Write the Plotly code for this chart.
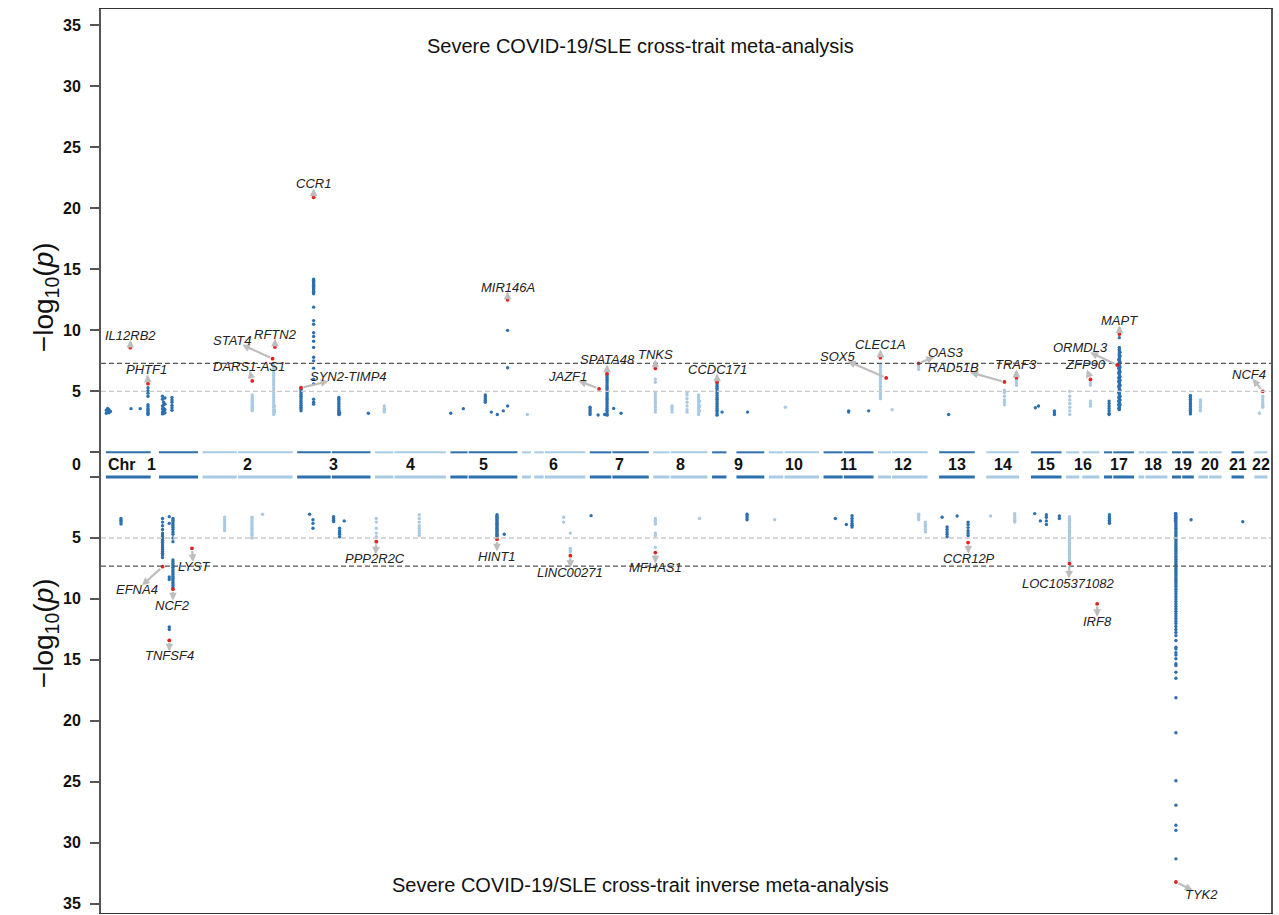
import plotly.graph_objects as go

# ---------------- chromosome data ----------------
chrom_labels = ['1', '2', '3', '4', '5', '6', '7', '8', '9', '10', '11',
                '12', '13', '14', '15', '16', '17', '18', '19', '20', '21', '22']
chrom_len = [249.25, 243.2, 198.0, 191.15, 180.9, 171.1, 159.1, 146.4, 141.2, 135.5, 135.0,
             133.85, 115.2, 107.3, 102.5, 90.35, 81.2, 78.1, 59.1, 63.0, 48.1, 51.3]
# covered extent of each chromosome (Mb), split where no SNPs exist
chrom_segments = [
    [(0.7, 121.5), (144.0, 249.2)],
    [(0.01, 92.3), (95.3, 243.1)],
    [(0.06, 90.5), (93.6, 197.9)],
    [(0.07, 49.6), (52.7, 191.0)],
    [(0.1, 46.4), (49.4, 180.8)],
    [(0.2, 24.0), (33.5, 58.8), (62.0, 171.0)],
    [(0.05, 58.1), (61.1, 159.1)],
    [(0.2, 43.8), (46.8, 146.3)],
    [(0.2, 39.0), (66.0, 141.1)],
    [(0.1, 39.2), (42.4, 135.5)],
    [(0.2, 51.6), (54.9, 134.9)],
    [(0.2, 34.8), (37.9, 133.8)],
    [(19.0, 115.1)],
    [(19.0, 107.3)],
    [(20.0, 102.5)],
    [(0.1, 36.0), (44.0, 90.3)],
    [(0.1, 22.2), (25.3, 81.2)],
    [(0.1, 15.4), (18.5, 78.0)],
    [(0.2, 24.6), (27.7, 59.1)],
    [(0.1, 26.3), (29.4, 62.9)],
    [(14.5, 48.1)],
    [(16.0, 51.2)],
]

# ---------------- top panel: cross-trait meta-analysis ----------------
top_chr = [1, 1, 1, 1, 1, 1, 1, 1, 1, 1, 1,
           2, 2, 2,
           3, 3, 3, 3, 3,
           4,
           5, 5, 5, 5, 5, 5, 5,
           6,
           7, 7, 7, 7, 7, 7,
           8, 8, 8, 8, 8,
           9, 9, 9,
           10,
           11, 11,
           12, 12, 12,
           13,
           14, 14,
           15, 15, 15,
           16, 16,
           17, 17, 17, 17,
           19,
           20,
           22, 22]
top_pos = [2.0, 5.5, 9.0, 13.0, 68.5, 93.5, 114.3, 153.5, 156.5, 160.0, 179.0,
           134.2, 192.0, 194.0,
           10.5, 44.5, 112.5, 114.5, 192.0,
           25.0,
           1.0, 35.0, 94.3, 110.5, 126.6, 142.8, 154.4,
           14.8,
           0.8, 22.4, 40.0, 46.6, 64.4, 84.3,
           5.7, 50.7, 91.1, 122.3, 125.0,
           13.7, 27.2, 96.0,
           44.7,
           67.9, 121.8,
           6.5, 38.0, 109.7,
           44.7,
           67.9, 100.2,
           32.0, 40.4, 83.3,
           10.2, 66.0,
           14.0, 40.0, 41.5, 43.5,
           49.9,
           5.7,
           30.0, 38.8]
top_logp = [
    [3.2, 3.45], [3.3, 3.6], [3.25, 3.5], [3.35], [3.58], [3.58],
    [5.3, 5.05, 4.85, 4.6, 3.9, 3.75, 3.6, 3.45, 3.3, 3.2, 3.1],
    [4.6, 4.35, 3.8, 3.55, 3.3, 3.15],
    [4.1, 3.9, 3.6, 3.4, 3.2],
    [4.45, 3.95, 3.5, 3.25],
    [4.5, 4.3, 4.1, 3.85, 3.65, 3.45],
    # chr2
    [4.7, 4.55, 4.4, 4.25, 4.1, 3.95, 3.8, 3.7, 3.6, 3.5, 3.4],
    [7.3, 7.1, 6.9, 6.7, 6.5, 6.3, 6.1, 5.9, 5.7, 5.5, 5.3, 5.1, 4.9, 4.7, 4.5, 4.3,
     4.1, 3.9, 3.7, 3.5, 3.3, 3.1],
    [3.8, 3.5, 3.3],
    # chr3
    [5.2, 5.05, 4.9, 4.75, 4.6, 4.45, 4.3, 4.15, 4.0, 3.85, 3.7, 3.55, 3.4],
    [14.2, 14.1, 14.0, 13.9, 13.8, 13.7, 13.6, 13.5, 13.4, 13.3, 13.2, 13.1, 13.0,
     11.9, 10.8, 10.5, 9.8, 9.5, 9.1, 8.6, 7.8, 7.5, 6.9, 6.0, 5.6, 4.35, 4.1, 3.95],
    [4.5, 4.35, 4.2, 4.05, 3.9, 3.75, 3.6, 3.45, 3.3, 3.2, 3.1],
    [3.25, 3.15],
    [3.2],
    # chr4
    [3.8, 3.6, 3.45, 3.3],
    # chr5
    [3.2], [3.58], [4.7, 4.55, 4.4, 4.25, 4.1], [3.3], [3.1], [3.4], [10.0, 6.93, 3.8],
    # chr6
    [3.1],
    # chr7
    [3.7, 3.55, 3.4, 3.25, 3.1], [3.06], [3.1],
    [6.3, 6.15, 6.0, 5.85, 5.7, 5.55, 5.4, 5.25, 5.1, 4.95, 4.8, 4.65, 4.5, 4.35,
     4.2, 4.05, 3.9, 3.75, 3.6, 3.45, 3.3, 3.15, 3.05],
    [3.6], [3.2],
    # chr8
    [6.0, 5.75, 4.9, 4.7, 4.5, 4.3, 4.1, 3.9, 3.7, 3.5, 3.3],
    [3.8, 3.65, 3.5, 3.3],
    [4.9, 4.7, 4.4, 4.1, 3.8, 3.5, 3.3],
    [4.7, 4.5, 4.3, 4.1, 3.9, 3.7, 3.5, 3.3, 3.1],
    [4.2, 3.8, 3.4],
    # chr9
    [5.7, 5.55, 5.4, 5.25, 5.1, 4.95, 4.8, 4.65, 4.5, 4.35, 4.2, 4.05, 3.9, 3.75,
     3.6, 3.45, 3.3, 3.15, 3.05],
    [3.3], [3.3],
    # chr10
    [3.7],
    # chr11
    [3.3, 3.4], [3.4],
    # chr12
    [7.2, 7.0, 6.8, 6.6, 6.4, 6.2, 6.0, 5.8, 5.6, 5.4, 5.2, 5.0, 4.8, 4.6, 4.4],
    [3.5],
    [7.2, 7.0, 6.8],
    # chr13
    [3.1],
    # chr14
    [5.1, 4.9, 4.6, 4.3, 4.1, 3.9],
    [5.9, 5.7, 5.5],
    # chr15
    [3.65], [3.8], [3.4, 3.25, 3.1],
    # chr16
    [5.0, 4.6, 4.3, 4.0, 3.7, 3.4, 3.1],
    [5.7, 5.5, 4.2, 4.0, 3.8],
    # chr17
    [4.2, 4.0, 3.8, 3.6, 3.4, 3.2, 3.1],
    [7.6, 7.2, 6.9, 6.5, 6.1, 5.8, 5.4, 4.9, 4.5, 4.2, 3.9, 3.6],
    [9.4, 8.6, 8.45, 8.3, 8.15, 8.0, 7.85, 7.7, 7.55, 7.4, 7.25, 7.1, 6.95, 6.8, 6.65,
     6.5, 6.35, 6.2, 6.05, 5.9, 5.75, 5.6, 5.45, 5.3, 5.15, 5.0, 4.85, 4.7, 4.55, 4.4,
     4.25, 4.1, 3.95, 3.8, 3.65, 3.5],
    [8.2, 7.9, 7.4, 7.0, 6.6, 6.2, 5.9, 5.5, 5.1, 4.6, 4.3, 3.9],
    # chr19
    [4.66, 4.5, 4.35, 4.2, 4.05, 3.9, 3.75, 3.6, 3.45, 3.3, 3.15],
    # chr20
    [4.3, 4.1, 3.9, 3.7, 3.5, 3.4],
    # chr22
    [3.2],
    [4.6, 4.4, 4.2, 4.0, 3.85, 3.7],
]

top_lead_gene = ['IL12RB2', 'PHTF1', 'DARS1-AS1', 'STAT4', 'RFTN2', 'SYN2-TIMP4', 'CCR1',
                 'MIR146A', 'JAZF1', 'SPATA48', 'TNKS', 'CCDC171', 'CLEC1A', 'SOX5', 'OAS3',
                 'RAD51B', 'TRAF3', 'ZFP90', 'ORMDL3', 'MAPT', 'NCF4']
top_lead_chr = [1, 1, 2, 2, 2, 3, 3, 5, 7, 7, 8, 9, 12, 12, 12, 14, 14, 16, 17, 17, 22]
top_lead_pos = [66.6, 114.3, 134.2, 189.0, 195.4, 10.5, 44.5, 154.4, 25.0, 46.6, 5.7, 13.7,
                6.5, 22.0, 109.7, 67.9, 100.2, 66.0, 35.6, 41.8, 38.8]
top_lead_logp = [8.58, 5.63, 5.85, 7.68, 8.63, 5.3, 20.9, 12.5, 5.2, 6.45, 6.88, 5.77,
                 7.76, 6.1, 7.3, 5.77, 6.12, 5.98, 7.16, 9.7, 5.0]

# ---------------- bottom panel: cross-trait inverse meta-analysis ----------------
bot_chr = [1, 1, 1, 1,
           2, 2, 2,
           3, 3, 3, 3, 3,
           4, 4,
           5, 5,
           6, 6,
           7,
           8, 8,
           9,
           10,
           11, 11, 11,
           12, 12,
           13, 13, 13, 13,
           14, 14,
           15, 15, 15, 15,
           16,
           17,
           19, 19, 19,
           21]
bot_pos = [41.5, 153.6, 171.7, 181.6,
           59.6, 133.4, 162.0,
           33.7, 42.8, 98.4, 114.5, 127.0,
           3.5, 119.4,
           125.8, 145.5,
           112.6, 130.7,
           3.5,
           5.7, 124.8,
           94.6,
           15.9,
           32.0, 61.7, 77.0,
           109.7, 127.7,
           27.0, 40.4, 67.4, 97.0,
           30.2, 95.7,
           30.2, 45.5, 61.7, 96.7,
           9.4,
           14.8,
           9.5, 10.8, 51.7,
           45.0]
bot_logp = [
    [3.4, 3.55, 3.7, 3.85],
    [3.4, 3.7, 4.0, 4.3, 4.6, 4.75, 4.9, 5.05, 5.2, 5.35, 5.5, 5.65, 5.8, 5.95, 6.1,
     6.25, 6.4, 6.6],
    [3.25, 3.8, 8.2, 8.4, 12.3, 12.5],
    [3.4, 3.55, 3.7, 3.85, 4.0, 4.15, 4.3, 4.5, 4.7, 5.0, 5.3, 6.8, 6.95, 7.1, 7.25,
     7.4, 7.55, 7.7, 7.85, 8.0, 8.15, 8.3, 8.45, 8.6, 8.75, 8.9, 9.05],
    # chr2
    [3.3, 3.5, 3.7, 3.9, 4.1, 4.25, 4.4],
    [3.3, 3.45, 3.6, 3.75, 3.9, 4.05, 4.2, 4.35, 4.5, 4.65, 4.8, 5.0],
    [3.06],
    # chr3
    [3.06], [3.5, 3.8, 4.2], [3.25, 3.4, 3.55, 3.66], [4.2, 4.4, 4.55, 4.7, 4.9], [3.6],
    # chr4
    [3.4, 3.7, 4.2, 4.6, 4.9],
    [3.1, 3.4, 3.7, 4.0, 4.2, 4.4, 4.6, 4.8],
    # chr5
    [3.1, 3.2, 3.3, 3.4, 3.5, 3.6, 3.7, 3.8, 3.9, 4.0, 4.1, 4.2, 4.3, 4.4, 4.5, 4.6,
     4.7, 4.8, 4.9],
    [4.7],
    # chr6
    [3.3, 3.7], [4.6, 5.85, 6.0, 6.15],
    # chr7
    [3.17],
    # chr8
    [3.4, 3.55, 3.7, 3.85, 4.6, 4.8, 5.77], [3.4],
    # chr9
    [3.06, 3.2, 3.35, 3.5],
    # chr10
    [3.5],
    # chr11
    [3.4], [3.9], [3.17, 3.4, 3.6, 3.8, 3.95, 4.1],
    # chr12
    [3.06, 3.2, 3.35, 3.5], [3.7, 3.9, 4.1, 4.3, 4.5],
    # chr13
    [3.3], [4.1, 4.3, 4.5, 4.7, 4.9], [3.2], [3.7, 3.9, 4.15, 4.4, 4.6, 4.8],
    # chr14
    [3.2], [3.0, 3.2, 3.4, 3.55, 3.7],
    # chr15
    [3.0], [3.6], [3.1, 3.3, 3.6, 3.9], [3.2, 3.4],
    # chr16
    [3.25, 3.4, 3.55, 3.7, 3.85, 4.0, 4.15, 4.3, 4.45, 4.6, 4.75, 4.9, 5.05, 5.2, 5.35,
     5.5, 5.65, 5.8, 5.95, 6.1, 6.25, 6.4, 6.55, 6.7, 6.9],
    # chr17
    [3.1, 3.25, 3.4, 3.55, 3.7, 3.8],
    # chr19
    [3.0, 3.2, 3.4, 3.6],
    [3.0, 3.15, 3.3, 3.45, 3.6, 3.75, 3.9, 4.05, 4.2, 4.35, 4.5, 4.65, 4.8, 4.95, 5.1,
     5.25, 5.4, 5.55, 5.7, 5.85, 6.0, 6.15, 6.3, 6.45, 6.6, 6.75, 6.9, 7.05, 7.2, 7.35,
     7.5, 7.65, 7.8, 7.95, 8.1, 8.25, 8.4, 8.55, 8.7, 8.85, 9.0, 9.2, 9.4, 9.6, 9.8,
     10.0, 10.2, 10.4, 10.6, 10.8, 11.0, 11.2, 11.4, 11.6, 11.8, 12.0, 12.25, 12.5,
     12.75, 13.0, 13.4, 13.95, 14.1, 14.4, 14.6, 14.9, 15.3, 15.45, 16.0, 16.5, 18.1,
     20.96, 24.9, 26.9, 28.55, 28.96, 31.3],
    [3.5],
    # chr21
    [3.66],
]

bot_lead_gene = ['EFNA4', 'NCF2', 'TNFSF4', 'LYST', 'PPP2R2C', 'HINT1', 'LINC00271',
                 'MFHAS1', 'CCR12P', 'LOC105371082', 'IRF8', 'TYK2']
bot_lead_chr = [1, 1, 1, 1, 4, 5, 6, 8, 13, 16, 16, 19]
bot_lead_pos = [153.6, 181.6, 171.7, 232.8, 3.5, 125.8, 130.7, 5.7, 97.0, 9.4, 84.1, 10.8]
bot_lead_logp = [7.35, 9.2, 13.4, 5.85, 5.3, 5.1, 6.45, 6.2, 5.38, 7.1, 10.4, 33.2]

suggestive_line = 5.0
genomewide_line = 7.3
tick_levels = [35, 30, 25, 20, 15, 10, 5, 0]

# ---------------- layout parameters (label placement, not data) ----------------
top_label_dx = [0, -2.7, -10, -109, 0.8, 127.5, 0, 0, -86, 0, 0, 0, 0, -132, 72,
                -136.6, 0, -13.5, -99, 0, -37.7]
top_label_dy = [1.02, 1.12, 1.22, 1.52, 1.07, 0.9, 1.1, 1.05, 1.05, 1.12, 1.1, 1.06, 1.04,
                1.74, 0.9, 1.16, 1.04, 1.18, 1.41, 1.1, 1.4]
bot_label_dx = [-69, 0, 0, 4.3, -2.7, 0, 0, 0, 1.6, -2, 0, 70]
bot_label_dy = [1.91, 1.3, 1.27, 1.5, 1.42, 1.38, 1.39, 1.26, 1.28, 1.6, 1.46, 1.06]

GAP_MB = 12.0      # spacing between chromosomes on the genome axis
GAP_Y = 2.02       # spacing between the two panels (in -log10 p units)
DARK = '#2d70ae'
LIGHT = '#a8cae3'
RED = '#e3211c'
ARROW = '#bdbdbd'
FONT = 'Liberation Sans, Arial, sans-serif'
W, H = 1279, 915
ML, MR, MT, MB = 101, 8, 9, 2

assert len(top_chr) == len(top_pos) == len(top_logp)
assert len(bot_chr) == len(bot_pos) == len(bot_logp)

offsets = []
acc = 0.0
for L in chrom_len:
    offsets.append(acc)
    acc += L + GAP_MB
genome_end = offsets[-1] + chrom_len[-1]


def gx(c, p):
    return offsets[c - 1] + p


def ytop(v):
    return v


def ybot(v):
    return -(v + GAP_Y)


XR = [-12.4, genome_end + 9.7]
YR = [ybot(35.74), 36.34]
PXX = (W - ML - MR) / (XR[1] - XR[0])
PXY = (H - MT - MB) / (YR[1] - YR[0])

fig = go.Figure()

# chromosome bars
for row_y, width in ((0.0, 2.0), (-GAP_Y, 3.0)):
    for parity, col in ((1, DARK), (0, LIGHT)):
        xs, ys = [], []
        for i, segs in enumerate(chrom_segments):
            if (i + 1) % 2 != parity:
                continue
            for a, b in segs:
                xs += [gx(i + 1, a), gx(i + 1, b), None]
                ys += [row_y, row_y, None]
        fig.add_trace(go.Scatter(x=xs, y=ys, mode='lines', line=dict(color=col, width=width),
                                 hoverinfo='skip', showlegend=False))

# SNP points
for chrs, poss, vals, yf in ((top_chr, top_pos, top_logp, ytop), (bot_chr, bot_pos, bot_logp, ybot)):
    for parity, col in ((1, DARK), (0, LIGHT)):
        xs, ys = [], []
        for c, p, vs in zip(chrs, poss, vals):
            if c % 2 != parity:
                continue
            for v in vs:
                xs.append(gx(c, p))
                ys.append(yf(v))
        fig.add_trace(go.Scatter(x=xs, y=ys, mode='markers',
                                 marker=dict(color=col, size=3.4, line=dict(width=0)),
                                 showlegend=False, hoverinfo='skip'))

# threshold lines
for yf in (ytop, ybot):
    fig.add_shape(type='line', xref='paper', x0=0, x1=1, yref='y', y0=yf(suggestive_line),
                  y1=yf(suggestive_line), line=dict(color='#c9c9c9', width=1.3, dash='5px,3px'),
                  layer='above')
    fig.add_shape(type='line', xref='paper', x0=0, x1=1, yref='y', y0=yf(genomewide_line),
                  y1=yf(genomewide_line), line=dict(color='#555555', width=1.3, dash='5px,3px'),
                  layer='above')

# gene labels with arrows (arrow head ends at the label's edge)
for genes, chrs, poss, vals, dxs, dys, yf in (
        (top_lead_gene, top_lead_chr, top_lead_pos, top_lead_logp, top_label_dx, top_label_dy, ytop),
        (bot_lead_gene, bot_lead_chr, bot_lead_pos, bot_lead_logp, bot_label_dx, bot_label_dy, ybot)):
    for g, c, p, v, dx, dy in zip(genes, chrs, poss, vals, dxs, dys):
        px_, py_ = gx(c, p), yf(v)
        lx, ly = px_ + dx, yf(v + dy)
        dxp = (px_ - lx) * PXX
        dyp = (py_ - ly) * PXY
        hw = len(g) * 4.1 + 0.5
        hh = 4.6
        t = min(hw / abs(dxp) if dxp else 1e9, hh / abs(dyp) if dyp else 1e9)
        tipx = lx + (px_ - lx) * t
        tipy = ly + (py_ - ly) * t
        fig.add_annotation(x=tipx, y=tipy, xref='x', yref='y', ax=px_, ay=py_, axref='x', ayref='y',
                           text='', showarrow=True, arrowhead=2, arrowsize=0.7, arrowwidth=2.2,
                           arrowcolor=ARROW, standoff=0, startstandoff=1.2)
        fig.add_annotation(x=lx, y=ly, xref='x', yref='y', showarrow=False, borderpad=0,
                           text='<i>' + g + '</i>',
                           font=dict(family=FONT, size=13, color='#222222'))

# lead SNPs (drawn on top)
for chrs, poss, vals, yf in ((top_lead_chr, top_lead_pos, top_lead_logp, ytop),
                             (bot_lead_chr, bot_lead_pos, bot_lead_logp, ybot)):
    fig.add_trace(go.Scatter(x=[gx(c, p) for c, p in zip(chrs, poss)], y=[yf(v) for v in vals],
                             mode='markers', marker=dict(color=RED, size=3.8, line=dict(width=0)),
                             showlegend=False, hoverinfo='skip'))

# chromosome labels
for i, segs in enumerate(chrom_segments):
    mid = (segs[0][0] + segs[-1][1]) / 2.0
    fig.add_annotation(x=gx(i + 1, mid), y=-GAP_Y / 2, xref='x', yref='y', showarrow=False,
                       text='<b>' + chrom_labels[i] + '</b>',
                       font=dict(family=FONT, size=16, color='#111111'))
fig.add_annotation(x=gx(1, 0.0), y=-GAP_Y / 2, xref='x', yref='y', showarrow=False,
                   xanchor='left', text='<b>Chr</b>', font=dict(family=FONT, size=16, color='#111111'))

# y tick labels (top panel upward, bottom panel downward, shared 0 in the middle)
for v in tick_levels:
    if v == 0:
        continue
    for yf in (ytop, ybot):
        fig.add_annotation(x=0, y=yf(v), xref='paper', yref='y', showarrow=False, xanchor='right',
                           xshift=-19, borderpad=0, text='<b>%d</b>' % v,
                           font=dict(family=FONT, size=16, color='#111111'))
fig.add_annotation(x=0, y=-GAP_Y / 2, xref='paper', yref='y', showarrow=False, xanchor='right',
                   xshift=-19, borderpad=0, text='<b>0</b>',
                   font=dict(family=FONT, size=16, color='#111111'))

# titles
fig.add_annotation(x=0.4607, y=0.9735, xref='paper', yref='paper', showarrow=False,
                   text='Severe COVID-19/SLE cross-trait meta-analysis',
                   font=dict(family=FONT, size=20, color='#111111'))
fig.add_annotation(x=0.4607, y=0.0166, xref='paper', yref='paper', showarrow=False,
                   text='Severe COVID-19/SLE cross-trait inverse meta-analysis',
                   font=dict(family=FONT, size=20, color='#111111'))
for yp in (0.7445, 0.2467):
    fig.add_annotation(x=-0.0635, y=yp, xref='paper', yref='paper', showarrow=False,
                       textangle=-90, text='\u2212log<sub>10</sub>(<i>p</i>)',
                       font=dict(family=FONT, size=28, color='#111111'))

tickvals = [ytop(v) for v in tick_levels] + [ybot(v) for v in tick_levels]

fig.update_layout(
    width=W, height=H, autosize=False,
    margin=dict(l=ML, r=MR, t=MT, b=MB),
    paper_bgcolor='white', plot_bgcolor='white',
    xaxis=dict(range=XR, showticklabels=False, ticks='', showgrid=False,
               zeroline=False, showline=True, linecolor='#333333', linewidth=1.3, mirror=True),
    yaxis=dict(range=YR, tickmode='array', tickvals=tickvals, showticklabels=False,
               ticks='outside', ticklen=9, tickwidth=2, tickcolor='#555555',
               showgrid=False, zeroline=False, showline=True, linecolor='#555555', linewidth=2,
               mirror=True),
    showlegend=False,
)

fig.write_html('out.html')
